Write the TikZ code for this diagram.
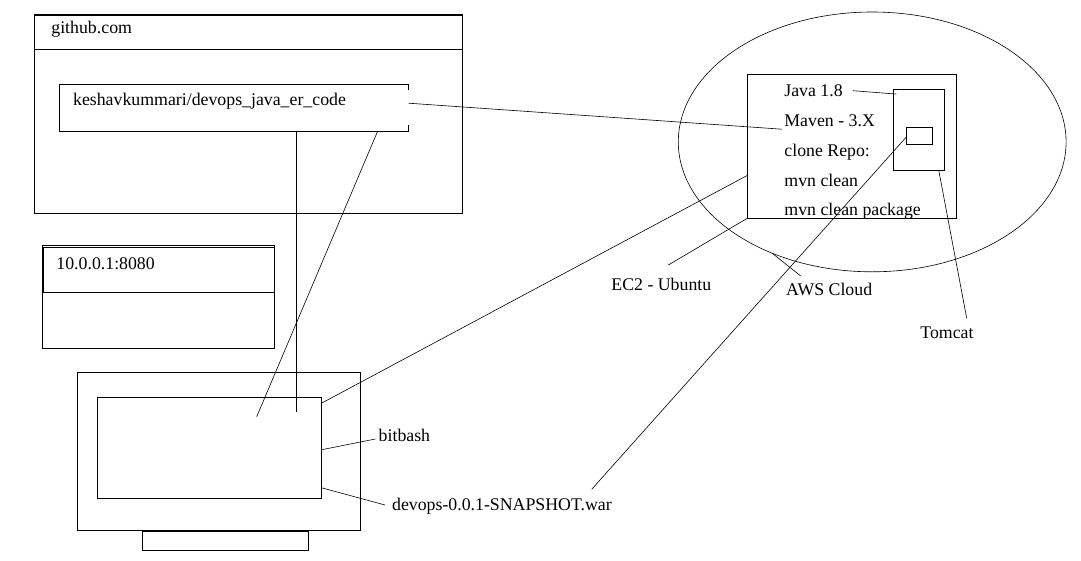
\documentclass[tikz,border=0pt]{standalone}
\usepackage{fontspec}
\setmainfont{Liberation Serif}
\usetikzlibrary{shapes.geometric}

\begin{document}
\begin{tikzpicture}[x=1pt, y=-1pt, line width=0.8pt,
          box/.style={rectangle, draw, inner sep=0pt, outer sep=0pt},
          frame/.style={rectangle, inner sep=0pt, outer sep=0pt},
          lbl/.style={anchor=base west, inner sep=0pt, font=\fontsize{17.8}{21}\selectfont},
          leader/.style={line width=0.6pt}]
          \useasboundingbox (0,0) rectangle (1081,560);

          % github.com
          \node[box, minimum width=428, minimum height=198.3] (github) at (248.3,114.2) {};
          \draw[line width=1.6pt] ([yshift=-34]github.north west) -- (github.north west)
            -- (github.north east) -- ([yshift=-34]github.north east);
          \draw ([yshift=-34]github.north west) -- ([yshift=-34]github.north east);
          \node[lbl] (githubname) at (51,33.3) {github.com};
          \node[frame, minimum width=349.4, minimum height=46.7] (repo) at (234,107.7) {};
          \draw ([yshift=-6]repo.north east) -- (repo.north east) -- (repo.north west)
            -- (repo.south west) -- (repo.south east) -- ([yshift=6]repo.south east);
          \node[lbl] (reponame) at (72.7,105.3) {keshavkummari/devops\_java\_er\_code};

          % 10.0.0.1:8080
          \node[box, minimum width=231.6, minimum height=102.6] (ip) at (158.5,297) {};
          \draw ([yshift=-2]ip.north west) -- ([yshift=-2]ip.north east);
          \draw ([yshift=-47]ip.north west) -- ([yshift=-47]ip.north east);
          \draw[line width=1.6pt] ([yshift=-2]ip.north west) -- ([yshift=-47]ip.north west);
          \node[lbl] (ipname) at (56,269.3) {10.0.0.1:8080};

          % monitor
          \node[box, minimum width=283, minimum height=158.4] (monitor) at (218.8,451.5) {};
          \node[box, minimum width=224, minimum height=101] (screen) at (209.3,447.8) {};
          \node[box, minimum width=166, minimum height=18.6] (stand) at (225.3,541) {};
          \node[lbl] (bitbash) at (378.3,441) {bitbash};
          \node[lbl] (warfile) at (391.7,510) {devops-0.0.1-SNAPSHOT.war};

          % AWS
          \node[ellipse, draw, leader, minimum width=387.8, minimum height=259.8,
            inner sep=0pt, outer sep=0pt] (aws) at (872.2,141.9) {};
          \node[box, minimum width=208.6, minimum height=143.7] (ec2) at (852,146.2) {};
          \node[box, minimum width=51.4, minimum height=80.7] (tomcat) at (919,129.7) {};
          \node[box, minimum width=26.7, minimum height=17] (war) at (919.4,135.8) {};
          \node[lbl] (java) at (784,96.5) {Java 1.8};
          \node[lbl] (maven) at (784,126.7) {Maven - 3.X};
          \node[lbl] (clone) at (784,156.7) {clone Repo:};
          \node[lbl] (clean) at (784,186.7) {mvn clean};
          \node[lbl] (package) at (784,215.7) {mvn clean package};
          \node[lbl] (ec2name) at (611,290) {EC2 - Ubuntu};
          \node[lbl] (awsname) at (785.7,295) {AWS Cloud};
          \node[lbl] (tomcatname) at (920,338.3) {Tomcat};

          \coordinate (pull) at (296.3,412.3);
          \coordinate (push) at (256.7,416.7);
          \coordinate (ec2tip) at (668.3,265);
          \coordinate (awstip) at (800.7,276);
          \coordinate (tomcattip) at (966.7,318.3);
          \coordinate (wartip) at (591.7,489.3);

          \draw[leader] ([yshift=4.5]repo.east) -- ([xshift=-2,yshift=-2.5]maven.base west);
          \draw[leader] (pull |- repo.south) -- (pull);
          \draw[leader] ([xshift=-31]repo.south east) -- (push);
          \draw[leader] ([yshift=-29]ec2.west) -- ([yshift=-6]screen.north east);
          \draw[leader] ([yshift=-2]screen.east) -- ([xshift=-3,yshift=2]bitbash.base west);
          \draw[leader] ([yshift=10.6]screen.south east) -- ([xshift=-6.7,yshift=5]warfile.base west);
          \draw[leader] ([xshift=10]java.east) -- ([xshift=3,yshift=-4.7]tomcat.north west);
          \draw[leader] ([xshift=-6]tomcat.south east) -- (tomcattip);
          \draw[leader] ([yshift=-1.5]war.west) -- (wartip);
          \draw[leader] (ec2.south west) -- (ec2tip);
          \draw[leader] (aws.228) -- (awstip);
        \end{tikzpicture}
\end{document}
